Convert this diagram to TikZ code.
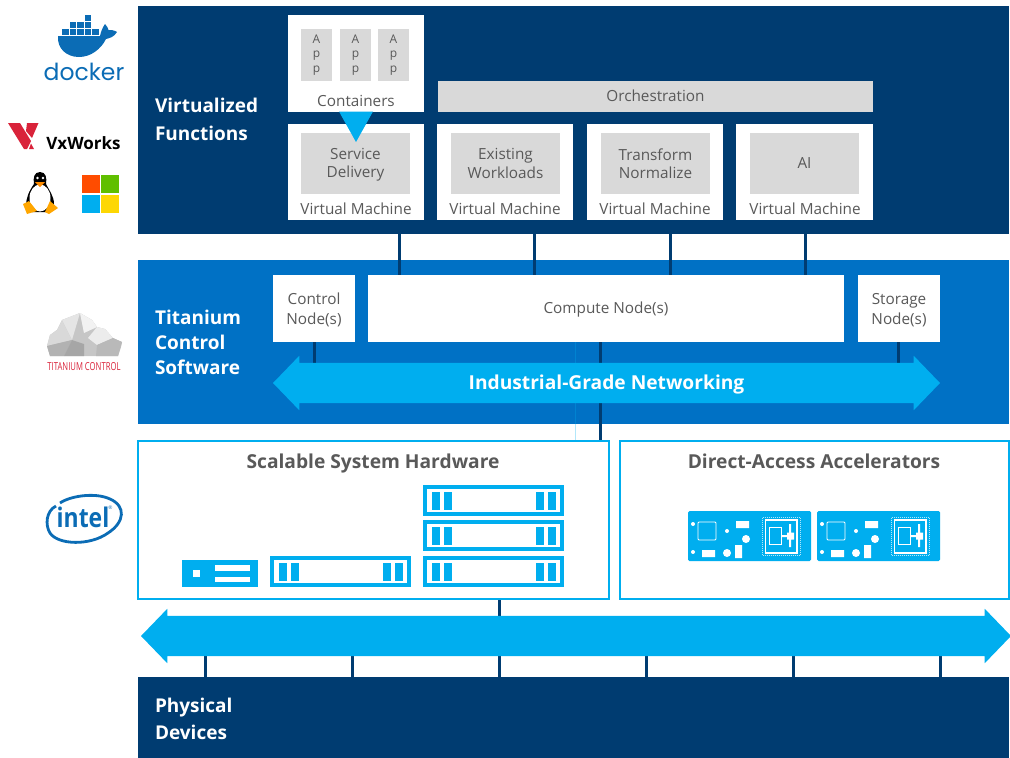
\documentclass[tikz,border=0pt]{standalone}
\usepackage{fontspec}
\setmainfont{Open Sans}
\usetikzlibrary{shapes.arrows}
\pgfdeclarelayer{background}
\pgfdeclarelayer{foreground}
\pgfsetlayers{background,main,foreground}
\definecolor{bandDark}{HTML}{003C71}
\definecolor{bandMid}{HTML}{0071C5}
\definecolor{skyBlue}{HTML}{00AEEF}
\definecolor{paleGray}{HTML}{D9D9D9}
\definecolor{textGray}{HTML}{595959}
\definecolor{logoBlue}{HTML}{0B6CB5}
\definecolor{logoRed}{HTML}{D9233A}
\tikzset{
  plain/.style={inner sep=0pt,outer sep=0pt},
  band/.style={plain,fill=#1,minimum width=871,anchor=north west},
  whitebox/.style={plain,fill=white,text=textGray,font=\fontsize{15.3}{20}\selectfont,align=center},
  graybox/.style={plain,fill=paleGray,text=textGray,font=\fontsize{15.3}{18.5}\selectfont,align=center},
  appbox/.style={plain,fill=paleGray,text=textGray,font=\fontsize{12}{14.5}\selectfont,align=center,minimum width=31,minimum height=52},
  vmbox/.style={whitebox,minimum width=136,minimum height=96},
  workbox/.style={graybox,minimum width=109,minimum height=61},
  caption/.style={plain,text=textGray,font=\fontsize{15.3}{20}\selectfont},
  title/.style={plain,text=white,font=\fontsize{19}{25}\bfseries\selectfont,align=left,anchor=west},
  hwbox/.style={plain,fill=white,draw=skyBlue,line width=1.5},
  hwtitle/.style={plain,text=textGray,font=\fontsize{19.2}{22}\bfseries\selectfont,anchor=base},
  rack/.style={plain,fill=white,draw=skyBlue,line width=4,minimum width=137,minimum height=27},
  bigarrow/.style={plain,fill=skyBlue,double arrow,double arrow head extend=7,double arrow tip angle=92,text=white,font=\fontsize{19.2}{22}\bfseries\selectfont},
  busline/.style={bandDark,line width=3},
}
\begin{document}
\begin{tikzpicture}[x=1pt,y=-1pt]
  \useasboundingbox (0,0) rectangle (1010,758);
  \begin{pgfonlayer}{background}
    \node[band=bandDark,minimum height=228] (virt) at (138,6) {};
    \node[band=bandMid,minimum height=164] (tita) at (138,260) {};
    \node[band=bandDark,minimum height=81] (phys) at (138,677) {};
  \end{pgfonlayer}
  \node[title] (virtl) at (155,119) {Virtualized\\[3pt]Functions};
  \node[title] (rinal) at (155,342) {Titanium\\Control\\Software};
  \node[title] (physl) at (155,718.5) {Physical\\[2pt]Devices};

  \node[whitebox,minimum width=136,minimum height=97] (cont) at (356,63.5) {};
  \node[appbox] (appa) at (316.5,55) {A\\p\\p};
  \node[appbox] (appb) at (355.5,55) {A\\p\\p};
  \node[appbox] (appc) at (393.5,55) {A\\p\\p};
  \node[caption] (contl) at (356,101) {Containers};
  \node[graybox,minimum width=435,minimum height=31] (orch) at (655.5,96.5) {\raisebox{1pt}{Orchestration}};

  \node[vmbox] (vma) at (356,172) {};
  \node[vmbox] (vmb) at (505,172) {};
  \node[vmbox] (vmc) at (655,172) {};
  \node[vmbox,minimum width=137] (vmd) at (804.5,172) {};
  \node[workbox] (worka) at (355.5,163.5) {\rule{0pt}{14pt}Service\\Delivery};
  \node[workbox] (workb) at (505.5,163.5) {Existing\\Workloads};
  \node[workbox] (workc) at (655.5,163.5) {Transform\\Normalize};
  \node[workbox] (workd) at (804.5,163.5) {AI};
  \node[caption] (vmal) at (356,209) {Virtual Machine};
  \node[caption] (vmbl) at (505,209) {Virtual Machine};
  \node[caption] (vmcl) at (655,209) {Virtual Machine};
  \node[caption] (vmdl) at (805,209) {Virtual Machine};
  \fill[skyBlue] (339,111.5) -- (373,111.5) -- (356,142) -- cycle;

  \node[whitebox,minimum width=82,minimum height=67] (ctrl) at (314,308.5) {};
  \node[whitebox,minimum width=476,minimum height=67] (comp) at (606,308.5) {};
  \node[whitebox,minimum width=82,minimum height=67] (stor) at (899,308.5) {};
  \node[whitebox,fill=none] (ctrll) at (314,310) {Control\\Node(s)};
  \node[whitebox,fill=none] (compl) at (606,310) {Compute Node(s)};
  \node[whitebox,fill=none] (storl) at (899,310) {Storage\\Node(s)};
  \node[bigarrow,minimum height=667,minimum width=54] (net) at (606.5,383) {\rule[-13.5pt]{0pt}{40pt}Industrial-Grade Networking};

  \node[hwbox,minimum width=471,minimum height=158] (scal) at (373.5,520) {};
  \node[hwbox,minimum width=389,minimum height=158] (accl) at (814.5,520) {};
  \node[hwtitle] (scall) at (373,468) {Scalable System Hardware};
  \node[hwtitle] (accll) at (814,468) {Direct-Access Accelerators};
  \node[bigarrow,minimum height=870,minimum width=54] (bus) at (576,636) {\rule{0pt}{40pt}};

  \coordinate (tapa) at (399,275);
  \coordinate (tapb) at (534,275);
  \coordinate (tapc) at (670,275);
  \coordinate (tapd) at (805,275);
  \coordinate (tapm) at (600.5,342);
  \coordinate (tapf) at (575.5,342);
  \coordinate (taps) at (898,342);
  \coordinate (taph) at (499,599);
  \begin{pgfonlayer}{background}
    \draw[busline] (vma.south -| tapa) -- (tapa);
    \draw[busline] (vmb.south -| tapb) -- (tapb);
    \draw[busline] (vmc.south -| tapc) -- (tapc);
    \draw[busline] (vmd.south -| tapd) -- (tapd);
    \draw[busline] (ctrl.south) -- (ctrl.south |- net.center);
    \draw[busline] (taps) -- (taps |- net.center);
    \draw[busline] (tapm) -- (tapm |- scal.north);
    \draw[skyBlue,opacity=.3,line width=.8] (tapf) -- (tapf |- scal.north);
    \draw[busline] (taph) -- (taph |- bus.center);
    \foreach \tx in {205,352,499,646,793,940} {
      \coordinate (dev\tx) at (\tx,677);
      \draw[busline] (dev\tx) -- (dev\tx |- bus.center);
    }
  \end{pgfonlayer}

  \foreach \rx/\ry/\rname in {270/556/racka,423/485/rackb,423/520/rackc,423/556/rackd} {
    \node[rack] (\rname) at (\rx+70.5,\ry+15.5) {};
    \foreach \bx in {9,21,113,125}
      \fill[skyBlue] (\rx+\bx,\ry+7) rectangle (\rx+\bx+8,\ry+25);
  }
  \node[plain,fill=skyBlue,minimum width=76,minimum height=27] (unit) at (220,573.5) {};
  \fill[white] (192.5,570) rectangle (200,577);
  \fill[white] (215,565) rectangle (250,571);
  \fill[white] (215,577) rectangle (250,582);

  \foreach \cx in {688,817} {
    \begin{scope}[shift={(\cx,511)}]
      \fill[skyBlue,rounded corners=1.5] (0,0) rectangle (123,50);
      \draw[white,line width=.8,rounded corners=1] (10,11) rectangle (28,29);
      \fill[white] (5,13) circle (2) (39,20) circle (2) (5,41) circle (2);
      \fill[white] (58,28) circle (4) (39,42) circle (4);
      \fill[white] (48,10) rectangle (61,17) (14,39) rectangle (27,46) (47,34) rectangle (54,47);
      \draw[white!70!skyBlue,line width=1,densely dotted] (74.5,6.5) rectangle (112,44.5);
      \draw[white,line width=1.3] (77.5,9) rectangle (109,42);
      \draw[white,line width=.6] (81,16.5) rectangle (93,33);
      \fill[white] (99,21.5) rectangle (106,28.5) (101,13) rectangle (103,36) (93,24) rectangle (99,26);
    \end{scope}
  }

  \begin{scope}[logoBlue]
    \fill (58,36) -- (100,36) .. controls (101,31) and (103,27) .. (105,24) .. controls (107,26) and (108,28) .. (108.5,30) .. controls (111,30) and (114,30) .. (117,32) .. controls (114,37) and (110,38) .. (106,39) .. controls (101,49) and (91,57) .. (79,57) .. controls (66,57) and (57,48) .. (58,36) -- cycle;
    \foreach \bx/\by in {62/29,69.5/29,77/29,84.5/29,92/29,69.5/22,77/22,84.5/22,84.5/15}
      \fill (\bx,\by) rectangle ++(6.5,5.5);
  \end{scope}
  \node[plain,text=logoBlue,font=\fontsize{23.5}{24}\selectfont\fontspec{Poppins}] (docker) at (84,72) {docker};

  \fill[logoRed] (8,123) -- (20,123) -- (31,141) -- (27,149) -- (24,149) -- cycle;
  \fill[logoRed] (27,123) -- (38.5,123) -- (32,138) -- (26,131) -- cycle;
  \fill[logoRed] (29,149) -- (31,143.5) -- (34,149) -- cycle;
  \node[plain,text=black,font=\fontsize{17}{17}\bfseries\selectfont] (vxw) at (83.5,143) {VxWorks};

  \fill[black] (40,172) .. controls (34,172) and (33,178) .. (34,184) .. controls (29,191) and (26,198) .. (26,206) -- (32,212) -- (48,212) -- (54,204) .. controls (54,196) and (49,190) .. (46,184) .. controls (47,178) and (46,172) .. (40,172) -- cycle;
  \fill[white] (40,198) ellipse (10.5 and 13.5);
  \fill[white] (37.5,178) circle (1.4) (43,178) circle (1.4);
  \fill[orange!90!yellow] (35,182) -- (45,182) -- (40,187) -- cycle;
  \fill[orange!70!yellow] (23,204) -- (29,201) -- (37,211) -- (27,214) -- cycle;
  \fill[orange!70!yellow] (45,212) -- (50,201) -- (58,208) -- (49,214) -- cycle;

  \fill[orange!60!red] (82,175) rectangle (100,193);
  \fill[green!50!black!50!lime] (101,175) rectangle (119,193);
  \fill[skyBlue] (82,195) rectangle (100,213);
  \fill[yellow!75!orange] (101,195) rectangle (119,213);

  \fill[gray!45] (47,346) -- (50,335) -- (57,330) -- (62,320) -- (80,313) -- (92,320) -- (97,327) -- (105,329) -- (113,338) -- (122,342) -- (121,347) -- (118,356) -- (50,356) -- cycle;
  \fill[gray!20] (62,320) -- (80,313) -- (72,340) -- cycle;
  \fill[gray!10] (80,313) -- (92,320) -- (97,327) -- (84,333) -- cycle;
  \fill[gray!30] (50,335) -- (57,330) -- (62,320) -- (72,340) -- (47,346) -- cycle;
  \fill[gray!60] (47,346) -- (72,340) -- (64,356) -- (50,356) -- cycle;
  \fill[gray!70] (72,340) -- (84,344) -- (84,356) -- (64,356) -- cycle;
  \fill[gray!15] (88,338) -- (97,327) -- (105,329) -- (113,338) -- (97,345) -- cycle;
  \fill[gray!55] (97,345) -- (113,338) -- (122,342) -- (118,356) -- (96,356) -- cycle;
  \node[plain,text=logoRed,font=\fontsize{11}{11}\selectfont,xscale=.7] (ticon) at (84,367) {TITANIUM CONTROL};

  \draw[logoBlue,line width=2.8] (56,506) .. controls (46,511) and (45,525) .. (50,533) .. controls (58,545) and (90,546) .. (108,533) .. controls (125,522) and (126,506) .. (110,499) .. controls (95,492) and (70,496) .. (60,503);
  \node[plain,text=logoBlue,font=\fontsize{27}{27}\bfseries\selectfont,xscale=.85] (intel) at (83,517) {intel};
  \node[plain,text=logoBlue,font=\fontsize{5}{5}\selectfont] (intelr) at (110.5,508) {®};
\end{tikzpicture}
\end{document}
